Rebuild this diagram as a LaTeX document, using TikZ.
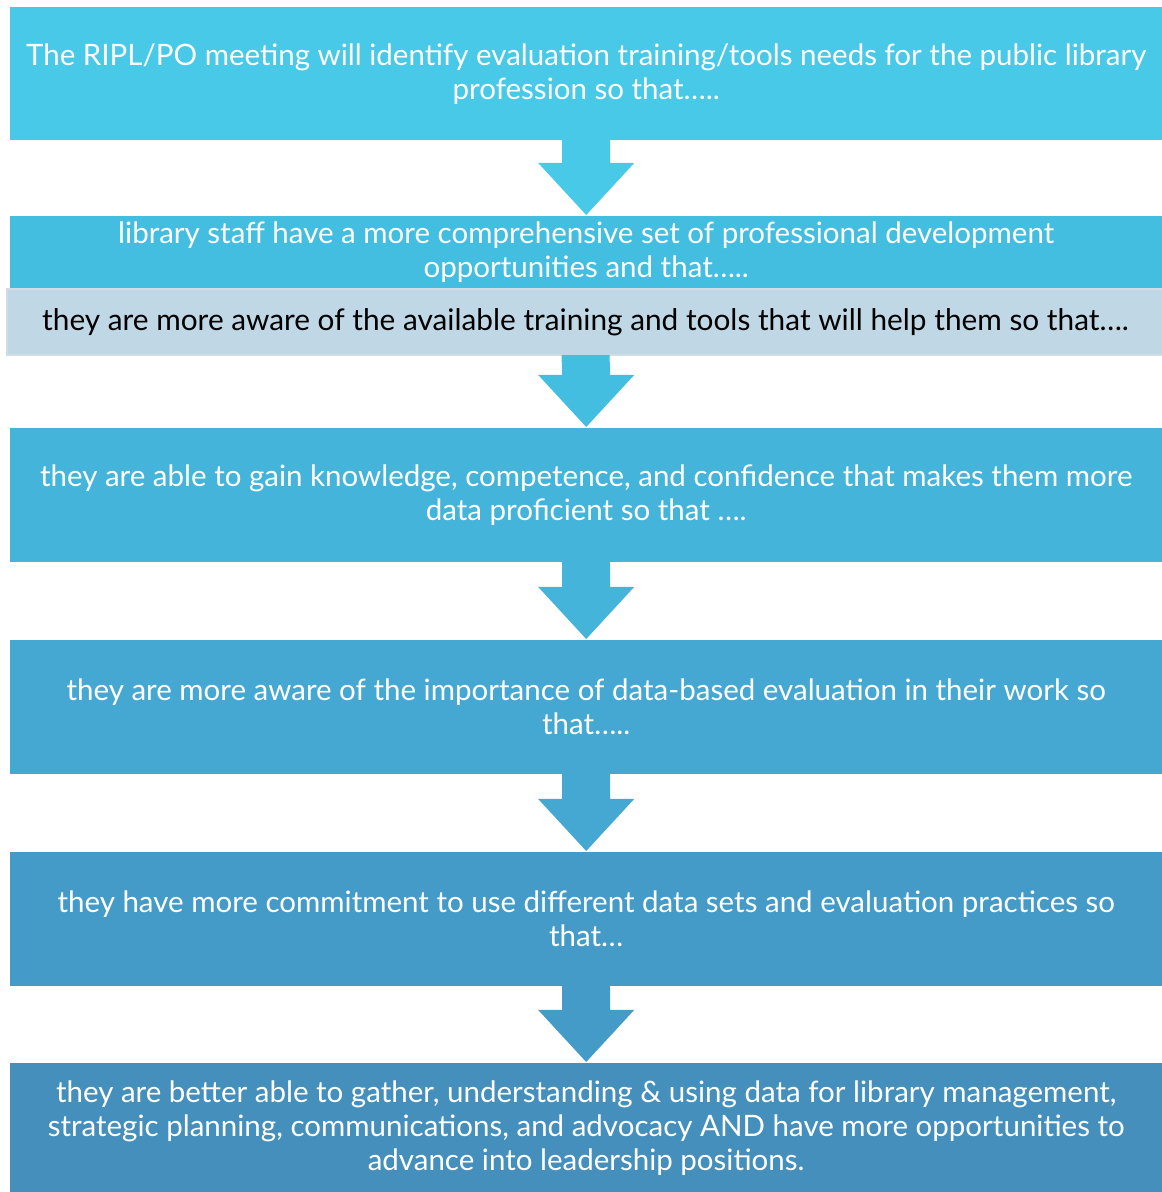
\documentclass[tikz,border=0pt]{standalone}
\usepackage{fontspec}
\setmainfont{Lato}
\usetikzlibrary{calc}
\definecolor{cA}{RGB}{71,201,231}
\definecolor{cB}{RGB}{68,190,224}
\definecolor{cC}{RGB}{192,216,230}
\definecolor{cCedge}{RGB}{208,220,232}
\definecolor{cD}{RGB}{69,180,218}
\definecolor{cE}{RGB}{68,168,210}
\definecolor{cF}{RGB}{68,155,200}
\definecolor{cG}{RGB}{68,143,188}
\tikzset{
  x=1pt, y=1pt,
  stage/.style={rectangle, inner sep=0pt, anchor=north west, minimum width=1152pt,
    align=center, text=white, font=\fontsize{29.5}{34}\selectfont},
  note/.style={rectangle, inner sep=0pt, anchor=north west, minimum width=1157pt,
    align=center, text=black, font=\fontsize{29.8}{34}\selectfont,
    draw=cCedge, line width=2pt, fill=cC},
}
% block arrow from the bottom of one box to the top of the next
\newcommand\stagearrow[3]{%
  \fill[#3] ($(#1.south)+(-24,1)$) -- ($(#2.north)+(-24,53)$) -- ($(#2.north)+(-48,53)$)
    -- ($(#2.north)+(0,1)$) -- ($(#2.north)+(48,53)$) -- ($(#2.north)+(24,53)$)
    -- ($(#1.south)+(24,1)$) -- cycle;}
\begin{document}
\begin{tikzpicture}
\useasboundingbox (0,0) rectangle (1162,1192);
\node[stage, fill=cA, minimum height=133pt] (b1) at (10,1185)
  {The RIPL/PO meeting will identify evaluation training/tools needs for the public library\\profession so that…..};
\node[stage, fill=cB, minimum height=72pt] (b2) at (10,976)
  {library staff have a more comprehensive set of professional development\\opportunities and that…..};
\node[note, minimum height=66pt] (b3) at (6,904)
  {they are more aware of the available training and tools that will help them so that….};
\node[stage, fill=cD, minimum height=134pt] (b4) at (10,764)
  {they are able to gain knowledge, competence, and confidence that makes them more\\data proficient so that ….};
\node[stage, fill=cE, minimum height=134pt] (b5) at (10,552)
  {they are more aware of the importance of data-based evaluation in their work so\\that…..};
\node[stage, fill=cF, minimum height=134pt] (b6) at (10,340)
  {they have more commitment to use different data sets and evaluation practices so\\that…};
\node[stage, fill=cG, minimum height=129pt] (b7) at (10,129)
  {they are better able to gather, understanding \& using data for library management,\\strategic planning, communications, and advocacy AND have more opportunities to\\advance into leadership positions.};
\stagearrow{b1}{b2}{cA}
\stagearrow{b3}{b4}{cB}
\stagearrow{b4}{b5}{cD}
\stagearrow{b5}{b6}{cE}
\stagearrow{b6}{b7}{cF}
\end{tikzpicture}
\end{document}
